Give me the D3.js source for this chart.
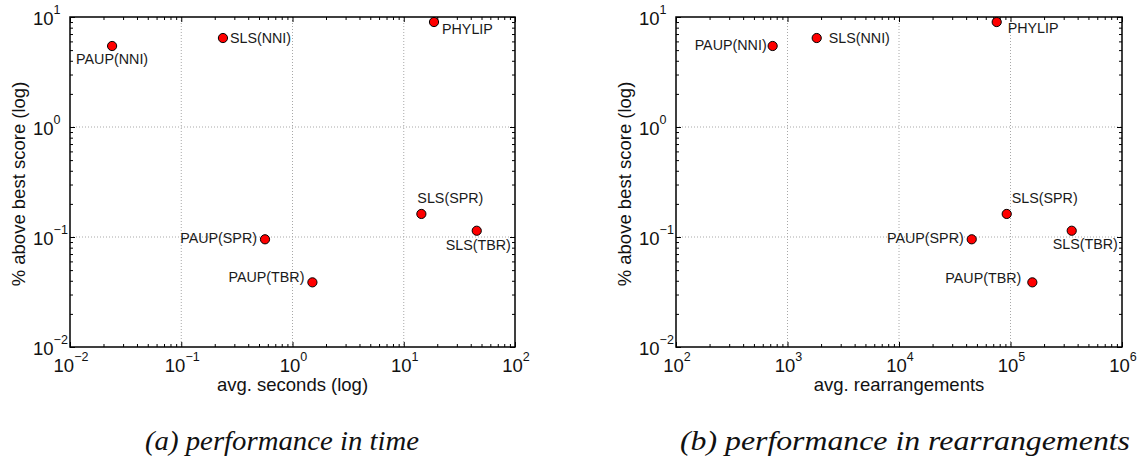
<!DOCTYPE html>
<html lang="en">
<head>
  <meta charset="UTF-8">
  <title>Performance in time and rearrangements</title>
  <script src="https://d3js.org/d3.v7.min.js"></script>
  <style>
    body { margin: 0; background: #fff; font-family: "Liberation Sans", Arial, Helvetica, sans-serif; }
    .tick-label { font-size: 18.5px; fill: #111; }
    .sup { font-size: 12.5px; }
    .axis-title { font-size: 18.5px; fill: #111; }
    .pt-label { font-size: 14.3px; fill: #1a1a1a; }
    .caption { font-family: "Times New Roman", "Liberation Serif", "Noto Serif", "DejaVu Serif", Times, serif; font-style: italic; font-size: 28px; fill: #111; }
    .grid { stroke: #a8a8a8; stroke-width: 1; stroke-dasharray: 1,2; }
  </style>
</head>
<body>
  <svg width="1144" height="469"></svg>

  <script>
    // data
    const methods = ["PAUP(NNI)", "SLS(NNI)", "PHYLIP", "PAUP(SPR)", "PAUP(TBR)", "SLS(SPR)", "SLS(TBR)"];
    const pctAbove = [5.45, 6.44, 9.0, 0.0953, 0.0387, 0.162, 0.114];
    const avgSeconds = [0.0239, 0.237, 18.7, 0.566, 1.51, 14.4, 45.3];
    const avgRearrangements = [736, 1828, 75200, 44900, 157000, 92500, 354000];

    const secondsDomain = [1e-2, 1e2];
    const rearrDomain = [1e2, 1e6];
    const pctDomain = [1e-2, 1e1];

    // label placement (pixel offsets from the marker)
    const labelsTime = [
      { anchor: "start", dx: -36, dy: 18 },
      { anchor: "start", dx: 7, dy: 5 },
      { anchor: "start", dx: 8, dy: 12 },
      { anchor: "end", dx: -8, dy: 4 },
      { anchor: "end", dx: -8, dy: 0 },
      { anchor: "start", dx: -4, dy: -11 },
      { anchor: "start", dx: -31, dy: 19 }
    ];
    const labelsRearr = [
      { anchor: "end", dx: -6, dy: 4 },
      { anchor: "start", dx: 12, dy: 5 },
      { anchor: "start", dx: 11, dy: 11 },
      { anchor: "end", dx: -8, dy: 4 },
      { anchor: "end", dx: -11, dy: 1 },
      { anchor: "start", dx: 5, dy: -11 },
      { anchor: "start", dx: -19, dy: 18 }
    ];

    const svg = d3.select("svg");
    const height = 330;

    const isMajor = v => Math.abs(Math.log10(v) - Math.round(Math.log10(v))) < 1e-9;
    const expText = v => {
      const e = Math.round(Math.log10(v));
      return e < 0 ? "\u2212" + (-e) : String(e);
    };

    function drawPanel(left, width, xDomain, xValues, labels, xTitle, caption, capX, capLen) {
      const g = svg.append("g").attr("transform", `translate(${left},17)`);

      const x = d3.scaleLog().domain(xDomain).range([0, width]);
      const y = d3.scaleLog().domain(pctDomain).range([height, 0]);

      const xMajor = x.ticks().filter(isMajor);
      const xMinor = x.ticks().filter(v => !isMajor(v));
      const yMajor = y.ticks().filter(isMajor);
      const yMinor = y.ticks().filter(v => !isMajor(v));

      // grid
      g.selectAll(".gx").data(xMajor.slice(1, -1)).enter().append("line")
        .attr("class", "grid")
        .attr("x1", d => x(d)).attr("x2", d => x(d))
        .attr("y1", 0).attr("y2", height);
      g.selectAll(".gy").data(yMajor.slice(1, -1)).enter().append("line")
        .attr("class", "grid")
        .attr("y1", d => y(d)).attr("y2", d => y(d))
        .attr("x1", 0).attr("x2", width);

      // inward ticks on all four sides
      const addAxis = (axis, transform) => {
        const a = g.append("g").attr("transform", transform).call(axis);
        a.select(".domain").remove();
        a.selectAll("line").attr("stroke", "#000");
      };
      [[xMajor, -5], [xMinor, -3]].forEach(([vals, size]) => {
        addAxis(d3.axisBottom(x).tickValues(vals).tickSize(size).tickFormat(""), `translate(0,${height})`);
        addAxis(d3.axisTop(x).tickValues(vals).tickSize(size).tickFormat(""), "translate(0,0)");
      });
      [[yMajor, -5], [yMinor, -3]].forEach(([vals, size]) => {
        addAxis(d3.axisLeft(y).tickValues(vals).tickSize(size).tickFormat(""), "translate(0,0)");
        addAxis(d3.axisRight(y).tickValues(vals).tickSize(size).tickFormat(""), `translate(${width},0)`);
      });

      // frame
      g.append("rect")
        .attr("width", width).attr("height", height)
        .attr("fill", "none").attr("stroke", "#000").attr("stroke-width", 1.5);

      // x tick labels
      xMajor.forEach(v => {
        const t = g.append("text").attr("class", "tick-label")
          .attr("x", x(v) + 1).attr("y", height + 25).attr("text-anchor", "middle");
        t.append("tspan").text("10");
        t.append("tspan").attr("class", "sup").attr("dy", -11).text(expText(v));
      });

      // y tick labels
      yMajor.forEach(v => {
        const t = g.append("text").attr("class", "tick-label")
          .attr("x", -37).attr("y", y(v) + 8);
        t.append("tspan").text("10");
        t.append("tspan").attr("class", "sup").attr("dy", -11).text(expText(v));
      });

      // axis titles
      g.append("text").attr("class", "axis-title")
        .attr("x", width / 2).attr("y", height + 44)
        .attr("text-anchor", "middle")
        .text(xTitle);
      g.append("text").attr("class", "axis-title")
        .attr("transform", "rotate(-90)")
        .attr("x", -(height / 2 + 2)).attr("y", -45)
        .attr("text-anchor", "middle")
        .text("% above best score (log)");

      // points
      const pts = methods.map((m, i) => ({ name: m, x: xValues[i], y: pctAbove[i], lab: labels[i] }));
      g.selectAll("circle").data(pts).enter().append("circle")
        .attr("cx", d => x(d.x))
        .attr("cy", d => y(d.y))
        .attr("r", 4.6)
        .attr("fill", "#ff0000")
        .attr("stroke", "#000")
        .attr("stroke-width", 1);

      g.selectAll(".pt-label").data(pts).enter().append("text")
        .attr("class", "pt-label")
        .attr("x", d => x(d.x) + d.lab.dx)
        .attr("y", d => y(d.y) + d.lab.dy)
        .attr("text-anchor", d => d.lab.anchor)
        .text(d => d.name);

      // caption
      svg.append("text").attr("class", "caption")
        .attr("x", capX)
        .attr("y", 450)
        .attr("text-anchor", "middle")
        .attr("textLength", capLen)
        .attr("lengthAdjust", "spacingAndGlyphs")
        .text(caption);
    }

    drawPanel(70, 445, secondsDomain, avgSeconds, labelsTime, "avg. seconds (log)", "(a) performance in time", 282, 274);
    drawPanel(676, 446, rearrDomain, avgRearrangements, labelsRearr, "avg. rearrangements", "(b) performance in rearrangements", 905, 450);
  </script>
</body>
</html>
